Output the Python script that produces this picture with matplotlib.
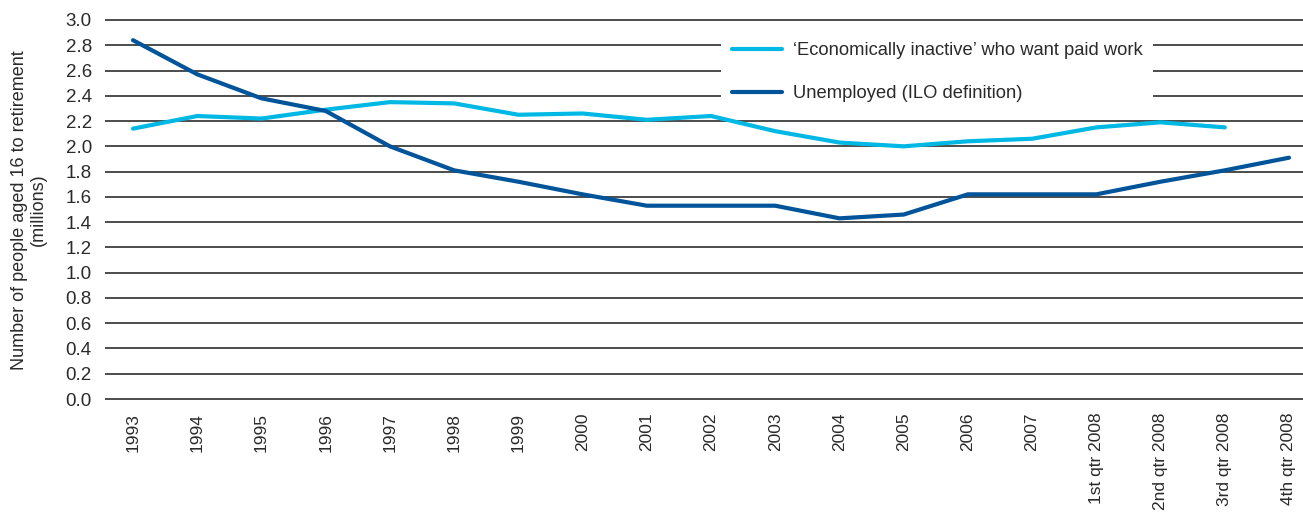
import matplotlib
matplotlib.use("Agg")
import matplotlib.pyplot as plt

categories = ["1993", "1994", "1995", "1996", "1997", "1998", "1999", "2000",
              "2001", "2002", "2003", "2004", "2005", "2006", "2007",
              "1st qtr 2008", "2nd qtr 2008", "3rd qtr 2008", "4th qtr 2008"]
inactive = [2.14, 2.24, 2.22, 2.29, 2.35, 2.34, 2.25, 2.26, 2.21, 2.24, 2.12,
            2.03, 2.00, 2.04, 2.06, 2.15, 2.19, 2.15, None]
unemployed = [2.84, 2.57, 2.38, 2.28, 2.00, 1.81, 1.72, 1.62, 1.53, 1.53, 1.53,
              1.43, 1.46, 1.62, 1.62, 1.62, 1.72, 1.81, 1.91]
yticks = [0.0, 0.2, 0.4, 0.6, 0.8, 1.0, 1.2, 1.4, 1.6, 1.8, 2.0, 2.2, 2.4, 2.6, 2.8, 3.0]

plt.rcParams['font.family'] = ['Liberation Sans', 'DejaVu Sans']
TXT = '#2a2a2a'

W, H = 1303, 512
fig = plt.figure(figsize=(W / 100, H / 100), dpi=100)
ymin, ymax = -0.01, 3.01
px_per_unit = (399 - 20) / 3.0
top_px = 20 - (ymax - 3.0) * px_per_unit
bot_px = 399 + (0 - ymin) * px_per_unit
ax = fig.add_axes([105 / W, 1 - bot_px / H, 1 - 105 / W, (bot_px - top_px) / H])

x = list(range(len(categories)))
xi = [i for i, v in zip(x, inactive) if v is not None]
yi = [v for v in inactive if v is not None]

for t in yticks:
    ax.axhline(t, color='#2e2e2e', lw=1.2, zorder=1)

ax.plot(xi, yi, color='#00B8E4', lw=3.0, solid_capstyle='round',
        solid_joinstyle='round', zorder=3,
        label="\u2018Economically inactive\u2019 who want paid work")
ax.plot(x, unemployed, color='#00549A', lw=3.0, solid_capstyle='round',
        solid_joinstyle='round', zorder=3, label="Unemployed (ILO definition)")

spacing = 64.2
ax.set_xlim(-28 / spacing, 18 + 14 / spacing)
ax.set_ylim(ymin, ymax)
ax.set_yticks(yticks)
ax.set_yticklabels([f"{t:.1f}" for t in yticks], fontsize=13.5, color=TXT)
ax.set_xticks(x)
ax.set_xticklabels(categories, rotation=90, fontsize=12.5, color=TXT, va='top')
ax.tick_params(axis='both', length=0)
ax.tick_params(axis='y', pad=9.5)
ax.tick_params(axis='x', pad=9)
for s in ax.spines.values():
    s.set_visible(False)

fig.text(29 / W, 1 - 210 / H, "Number of people aged 16 to retirement\n(millions)",
         rotation=90, ha='center', va='center', multialignment='center',
         fontsize=13, color=TXT, linespacing=1.2)

leg = fig.legend(loc='upper left', bbox_to_anchor=(712 / W, 1 - 22 / H),
                 frameon=True, fontsize=13.2, handlelength=2.7, labelspacing=1.42,
                 borderpad=0.6, handletextpad=0.6, fancybox=False)
leg.get_frame().set_facecolor('white')
leg.get_frame().set_edgecolor('none')
leg.get_frame().set_alpha(1.0)
for text in leg.get_texts():
    text.set_color(TXT)

fig.savefig("out.png", dpi=100)
